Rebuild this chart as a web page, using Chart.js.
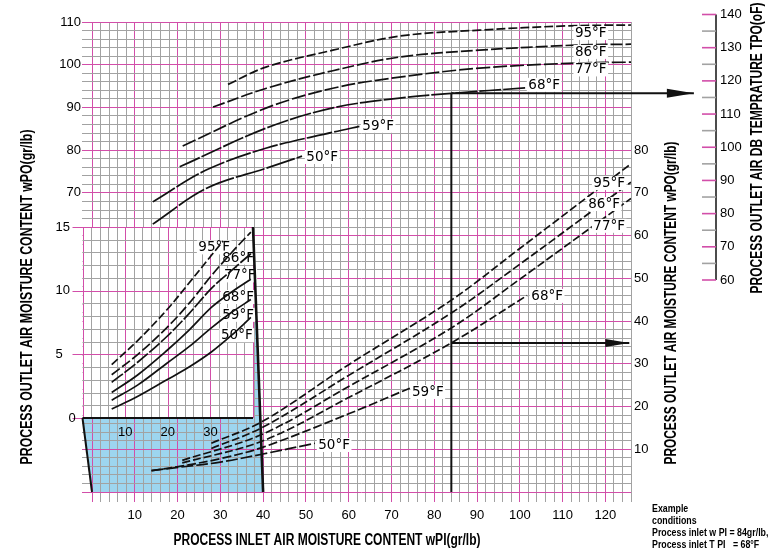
<!DOCTYPE html>
<html lang="en">
<head>
<meta charset="UTF-8" />
<title>Process outlet air moisture chart</title>
<script src="https://cdn.jsdelivr.net/npm/chart.js"></script>
<style>
  * { margin: 0; padding: 0; box-sizing: border-box; }
  body { background: #fff; width: 775px; height: 553px; overflow: hidden; }
  canvas { display: block; }
</style>
</head>
<body>
<canvas id="chart" width="775" height="553"></canvas>
<script>
// ---- values: [wPI, wPO] in gr/lb ----
const temps = ["95°F", "86°F", "77°F", "68°F", "59°F", "50°F"];

// upper family (left wPO scale)
const upper95 = [[31.8, 95.4], [40.8, 99.5], [56.3, 103.4], [71.9, 106.7], [90.6, 108.1], [111.4, 109.1], [126, 109.3]];
const upper86 = [[28.3, 90.1], [40.8, 94.5], [56.3, 98.6], [71.9, 101.8], [90.6, 103.4], [113.1, 104.6], [126, 104.8]];
const upper77 = [[21.2, 81.0], [40.8, 89.9], [56.3, 94.5], [71.9, 97.1], [90.6, 99.2], [113.1, 100.4], [126, 100.6]];
const upper68 = [[20.5, 76.1], [40.8, 85.2], [56.3, 89.9], [71.9, 92.2], [84, 93.3], [101.6, 94.6]];
const upper59 = [[14.2, 67.9], [26.8, 75.4], [40.8, 80.5], [56.3, 84.2], [63.1, 85.7]];
const upper50 = [[14.2, 62.7], [26.8, 71.1], [40.8, 75.8], [49.1, 78.6]];

// lower family (right wPO scale)
const lower95 = [[27.9, 11.4], [40, 16.6], [60, 29.8], [84, 44.9], [100, 57.0], [126, 76.8]];
const lower86 = [[27.9, 10.2], [40, 15.2], [60, 27.3], [84, 41.9], [100, 53.3], [126, 72.5]];
const lower77 = [[21.1, 7.4], [40, 13.6], [60, 24.7], [84, 38.4], [100, 49.8], [126, 68.7]];
const lower68 = [[21.1, 6.8], [40, 12.0], [60, 22.1], [84, 34.9], [101.7, 46.0]];
const lower59 = [[13.9, 5.0], [20.5, 6.0], [30, 7.8], [40, 10.5], [60, 18.3], [74.3, 24.3]];
const lower50 = [[13.9, 5.0], [20.5, 5.8], [30, 7.0], [40, 8.9], [52.1, 11.4]];

// inset (enlarged low range)
const inset95 = [[6.85, 4.2], [13, 6.1], [19.8, 8.5], [25, 10.6], [30.3, 12.8], [33, 13.9]];
const inset86 = [[6.85, 3.4], [13, 5.0], [19.8, 7.1], [25, 9.0], [30.3, 11.2], [35, 13.0], [39.5, 14.6]];
const inset77 = [[6.85, 2.8], [13, 4.4], [19.8, 6.4], [25, 8.2], [30.3, 10.2], [35, 11.6], [39.5, 12.9]];
const inset68 = [[6.85, 2.0], [13, 3.4], [19.8, 5.3], [25, 6.9], [30.3, 8.7], [35, 9.9], [39.5, 10.9]];
const inset59 = [[6.85, 1.4], [13, 2.6], [19.8, 4.3], [25, 5.6], [30.3, 7.1], [35, 8.3], [39.5, 9.3]];
const inset50 = [[6.85, 0.7], [13, 1.7], [19.8, 3.0], [25, 4.0], [30.3, 5.2], [35, 6.5], [39.5, 7.9]];

// example reading: wPI = 84 at 68°F
const exampleWPI = 84;
const exampleUpperWPO = 93.3;
const exampleLowerWPO = 34.9;
const upperArrowEndWPI = 140.7;
const lowerArrowEndWPI = 125.6;

// tick labels
const xTickLabels = [10, 20, 30, 40, 50, 60, 70, 80, 90, 100, 110, 120];
const leftTickLabels = [70, 80, 90, 100, 110];
const rightTickLabels = [10, 20, 30, 40, 50, 60, 70, 80];
const tpoTickLabels = [60, 70, 80, 90, 100, 110, 120, 130, 140];
const insetXTickLabels = [10, 20, 30];
const insetYTickLabels = [0, 5, 10, 15];

// ---- layout ----
const MAG = "#d24ea9", GRAY = "#a2a2a2", BLUE = "#9dd5ef";
const AREA = { left: 92, right: 631, top: 22, bottom: 492 };
const INSET_BOX = { left: 82.5, right: 253, top: 227, bottom: 418, xMax: 40, yMax: 15 };
const TPO_AXIS = { x: 716, top: 14.5, bottom: 280, min: 60, max: 140 };

// value range that a hidden scale needs so that given anchors land on given pixels
function rangeFor(v0, p0, v1, p1, pa, pb) {
  const k = (v1 - v0) / (p1 - p0);
  return [v0 + (pa - p0) * k, v0 + (pb - p0) * k];
}
const xiRange = rangeFor(0, INSET_BOX.left, INSET_BOX.xMax, INSET_BOX.right, AREA.left, AREA.right);
const yiRange = rangeFor(0, INSET_BOX.bottom, INSET_BOX.yMax, INSET_BOX.top, AREA.bottom, AREA.top);
const ytRange = rangeFor(TPO_AXIS.min, TPO_AXIS.bottom, TPO_AXIS.max, TPO_AXIS.top, AREA.bottom, AREA.top);

const gridColor = (c) => (c.tick && Math.round(c.tick.value) % 10 === 0 ? MAG : GRAY);

function curve(points, xAxisID, yAxisID, dash, width) {
  return {
    data: points.map(([x, y]) => ({ x, y })),
    xAxisID, yAxisID,
    showLine: true,
    borderColor: "#111",
    borderWidth: width || 1.7,
    borderDash: dash,
    pointRadius: 0,
    tension: 0.35,
    fill: false,
  };
}

const datasets = [
  curve(upper95, "x", "y", [9, 3]),
  curve(upper86, "x", "y", [12, 3]),
  curve(upper77, "x", "y", [14, 3]),
  curve(upper68, "x", "y", [22, 2]),
  curve(upper59, "x", "y", [26, 2]),
  curve(upper50, "x", "y", [30, 2]),
  curve(lower95, "x", "y", [8, 3]),
  curve(lower86, "x", "y", [8, 3]),
  curve(lower77, "x", "y", [8, 3]),
  curve(lower68, "x", "y", [8, 3]),
  curve(lower59, "x", "y", [9, 3]),
  curve(lower50, "x", "y", [12, 3]),
  curve(inset95, "xi", "yi", [8, 3]),
  curve(inset86, "xi", "yi", [10, 3]),
  curve(inset77, "xi", "yi", [14, 2]),
  curve(inset68, "xi", "yi", []),
  curve(inset59, "xi", "yi", []),
  curve(inset50, "xi", "yi", []),
];
const arrowStart = datasets.length;
datasets.push(
  { ...curve([[exampleWPI, 0], [exampleWPI, exampleUpperWPO]], "x", "y", [], 2), tension: 0 },
  { ...curve([[exampleWPI, exampleUpperWPO], [upperArrowEndWPI, exampleUpperWPO]], "x", "y", [], 2), tension: 0, clip: false },
  { ...curve([[exampleWPI, exampleLowerWPO], [lowerArrowEndWPI, exampleLowerWPO]], "x", "y", [], 2), tension: 0 }
);

// label anchors in data units
const upperLabelPos = [[116.6, 107.4], [116.6, 103.0], [116.6, 98.9], [105.7, 95.3], [66.9, 85.7], [53.8, 78.4]];
const lowerLabelPos = [[120.9, 72.3], [119.7, 67.4], [120.9, 62.3], [106.4, 45.9], [78.5, 23.4], [56.6, 11.0]];
const insetLabelPos = [[30.9, 13.4], [36.5, 12.6], [36.9, 11.2], [36.5, 9.5], [36.5, 8.1], [36.2, 6.5]];

function tag(ctx, text, x, y, boxed) {
  ctx.font = '13.5px "DejaVu Sans"';
  ctx.textAlign = "center";
  ctx.textBaseline = "middle";
  const w = ctx.measureText(text).width;
  if (boxed) {
    ctx.fillStyle = "#fff";
    ctx.fillRect(x - w / 2 - 1.5, y - 7, w + 3, 14);
  }
  ctx.fillStyle = "#000";
  ctx.fillText(text, x, y + 0.5);
}

function title(ctx, text, cx, cy, rot, width) {
  ctx.save();
  ctx.translate(cx, cy);
  ctx.rotate(rot);
  ctx.font = 'bold 16px "Liberation Sans"';
  ctx.textAlign = "center";
  ctx.textBaseline = "middle";
  ctx.fillStyle = "#000";
  ctx.fillText(text, 0, 0, width);
  ctx.restore();
}

function line(ctx, x1, y1, x2, y2, color, w) {
  ctx.strokeStyle = color;
  ctx.lineWidth = w;
  ctx.beginPath();
  ctx.moveTo(x1, y1);
  ctx.lineTo(x2, y2);
  ctx.stroke();
}

const decor = {
  id: "decor",
  beforeDraw(chart) {
    const { ctx, scales: s } = chart;
    const topR = [s.xi.getPixelForValue(INSET_BOX.xMax), s.yi.getPixelForValue(INSET_BOX.yMax)];
    const botR = [s.x.getPixelForValue(40), s.y.getPixelForValue(0)];
    const slantAt = (py) => topR[0] + ((botR[0] - topR[0]) * (py - topR[1])) / (botR[1] - topR[1]);
    const strip = s.y.getPixelForValue(40);
    const i0 = s.yi.getPixelForValue(0);
    ctx.save();
    ctx.fillStyle = BLUE;
    ctx.beginPath();
    ctx.moveTo(s.xi.getPixelForValue(0), i0);
    ctx.lineTo(topR[0], i0);
    ctx.lineTo(topR[0], strip);
    ctx.lineTo(slantAt(strip), strip);
    ctx.lineTo(botR[0], botR[1]);
    ctx.lineTo(s.x.getPixelForValue(0), botR[1]);
    ctx.closePath();
    ctx.fill();
    ctx.restore();
  },
  beforeDatasetsDraw(chart) {
    const { ctx, scales: s } = chart;
    const L = s.xi.getPixelForValue(0), R = s.xi.getPixelForValue(INSET_BOX.xMax);
    const T = s.yi.getPixelForValue(INSET_BOX.yMax), B = s.yi.getPixelForValue(0);
    ctx.save();
    ctx.fillStyle = "#fff";
    ctx.fillRect(L, T, R - L, B - T);
    // inset grid
    for (let v = 0; v <= INSET_BOX.xMax; v += 2) {
      const p = Math.round(s.xi.getPixelForValue(v)) + 0.5;
      line(ctx, p, T, p, B, v % 10 === 0 ? MAG : GRAY, 1);
    }
    for (let v = 0; v <= INSET_BOX.yMax; v += 1) {
      const p = Math.round(s.yi.getPixelForValue(v)) + 0.5;
      const major = v % 5 === 0;
      line(ctx, major ? L - 10 : L, p, R, p, major ? MAG : GRAY, 1);
    }
    // inset tick labels
    ctx.fillStyle = "#000";
    ctx.font = '13px "Liberation Sans"';
    ctx.textBaseline = "middle";
    ctx.textAlign = "left";
    insetYTickLabels.forEach((v) => {
      ctx.fillText(String(v), v === 0 ? L - 14 : L - 27, s.yi.getPixelForValue(v));
    });
    insetLabelPos.forEach(([x, y], i) => tag(ctx, temps[i], s.xi.getPixelForValue(x), s.yi.getPixelForValue(y), true));
    ctx.restore();
  },
  afterDatasetsDraw(chart) {
    const { ctx, scales: s } = chart;
    ctx.save();
    // heavy outline of the projection band
    const iL = s.xi.getPixelForValue(0), iR = s.xi.getPixelForValue(INSET_BOX.xMax);
    const i0 = s.yi.getPixelForValue(0), i15 = s.yi.getPixelForValue(INSET_BOX.yMax);
    const m0 = s.y.getPixelForValue(0);
    line(ctx, iL, i0, iR, i0, "#111", 2.2);
    line(ctx, iL, i0, s.x.getPixelForValue(0), m0, "#111", 2);
    line(ctx, iR, i15, s.x.getPixelForValue(40), m0, "#111", 2.6);

    ctx.fillStyle = "#000";
    ctx.font = '13px "Liberation Sans"';
    ctx.textAlign = "center";
    ctx.textBaseline = "middle";
    insetXTickLabels.forEach((v) => ctx.fillText(String(v), s.xi.getPixelForValue(v), i0 + 14));

    // arrow heads
    [arrowStart + 1, arrowStart + 2].forEach((di, k) => {
      const pts = chart.getDatasetMeta(di).data;
      const tip = pts[pts.length - 1];
      const len = k === 0 ? 27 : 24, half = k === 0 ? 4.5 : 4;
      ctx.fillStyle = "#111";
      ctx.beginPath();
      ctx.moveTo(tip.x, tip.y);
      ctx.lineTo(tip.x - len, tip.y - half);
      ctx.lineTo(tip.x - len, tip.y + half);
      ctx.closePath();
      ctx.fill();
    });

    // curve labels
    upperLabelPos.forEach(([x, y], i) => tag(ctx, temps[i], s.x.getPixelForValue(x), s.y.getPixelForValue(y), true));
    lowerLabelPos.forEach(([x, y], i) => tag(ctx, temps[i], s.x.getPixelForValue(x), s.y.getPixelForValue(y), true));

    // outlet temperature axis
    const yt = s.yt;
    line(ctx, TPO_AXIS.x, yt.getPixelForValue(TPO_AXIS.max), TPO_AXIS.x, yt.getPixelForValue(TPO_AXIS.min), "#111", 1.5);
    for (let i = 0; i < tpoTickLabels.length; i++) {
      const v = tpoTickLabels[i];
      const p = yt.getPixelForValue(v);
      line(ctx, TPO_AXIS.x - 14, p, TPO_AXIS.x, p, MAG, 1.6);
      if (i < tpoTickLabels.length - 1) {
        const pm = yt.getPixelForValue((v + tpoTickLabels[i + 1]) / 2);
        line(ctx, TPO_AXIS.x - 14, pm, TPO_AXIS.x, pm, GRAY, 1.6);
      }
      ctx.fillStyle = "#000";
      ctx.font = '13px "Liberation Sans"';
      ctx.textAlign = "left";
      ctx.textBaseline = "middle";
      ctx.fillText(String(v), TPO_AXIS.x + 4, p);
    }

    // axis titles
    title(ctx, "PROCESS OUTLET AIR MOISTURE CONTENT wPO(gr/lb)", 28, 297, -Math.PI / 2, 335);
    title(ctx, "PROCESS OUTLET AIR MOISTURE CONTENT wPO(gr/lb)", 672, 303, -Math.PI / 2, 323);
    title(ctx, "PROCESS OUTLET AIR DB TEMPRATURE TPO(oF)", 758, 148, -Math.PI / 2, 291);
    title(ctx, "PROCESS INLET AIR MOISTURE CONTENT wPI(gr/lb)", 327, 541, 0, 307);

    // example note
    ctx.save();
    ctx.translate(652, 0);
    ctx.scale(0.84, 1);
    ctx.font = 'bold 10.5px "Liberation Sans"';
    ctx.textAlign = "left";
    ctx.textBaseline = "middle";
    ctx.fillStyle = "#000";
    ["Example", "conditions", "Process inlet w PI = 84gr/lb,", "Process inlet T PI   = 68°F"].forEach((t, i) =>
      ctx.fillText(t, 0, 509 + i * 12)
    );
    ctx.restore();
    ctx.restore();
  },
};

Chart.defaults.font.family = '"Liberation Sans", Arial, sans-serif';
Chart.defaults.font.size = 13;
Chart.defaults.color = "#000";

new Chart(document.getElementById("chart"), {
  type: "scatter",
  data: { datasets },
  plugins: [decor],
  options: {
    responsive: false,
    animation: false,
    layout: { padding: { top: AREA.top, left: 0, right: 0, bottom: 0 } },
    plugins: { legend: { display: false }, tooltip: { enabled: false } },
    scales: {
      x: {
        type: "linear", position: "bottom", min: 0, max: 126,
        afterFit: (sc) => { sc.height = 553 - AREA.bottom; },
        grid: { color: gridColor, tickLength: 10, lineWidth: 1 },
        border: { display: false },
        ticks: {
          stepSize: 2, autoSkip: false, maxRotation: 0, padding: 6,
          callback: (v) => (xTickLabels.includes(v) ? String(v) : ""),
        },
      },
      y: {
        type: "linear", position: "left", min: 0, max: 110,
        afterFit: (sc) => { sc.width = AREA.left; },
        grid: { color: gridColor, tickLength: 10, lineWidth: 1 },
        border: { display: false },
        ticks: {
          stepSize: 2, autoSkip: false, padding: 1,
          callback: (v) => (leftTickLabels.includes(v) ? String(v) : ""),
        },
      },
      y2: {
        type: "linear", position: "right", min: 0, max: 110,
        afterFit: (sc) => { sc.width = 775 - AREA.right; },
        grid: { display: false, drawTicks: false },
        border: { display: false },
        ticks: {
          stepSize: 10, autoSkip: false, padding: 3,
          callback: (v) => (rightTickLabels.includes(v) ? String(v) : ""),
        },
      },
      xi: { type: "linear", axis: "x", display: false, min: xiRange[0], max: xiRange[1] },
      yi: { type: "linear", axis: "y", display: false, min: yiRange[0], max: yiRange[1] },
      yt: { type: "linear", axis: "y", display: false, min: ytRange[0], max: ytRange[1] },
    },
  },
});
</script>
</body>
</html>
